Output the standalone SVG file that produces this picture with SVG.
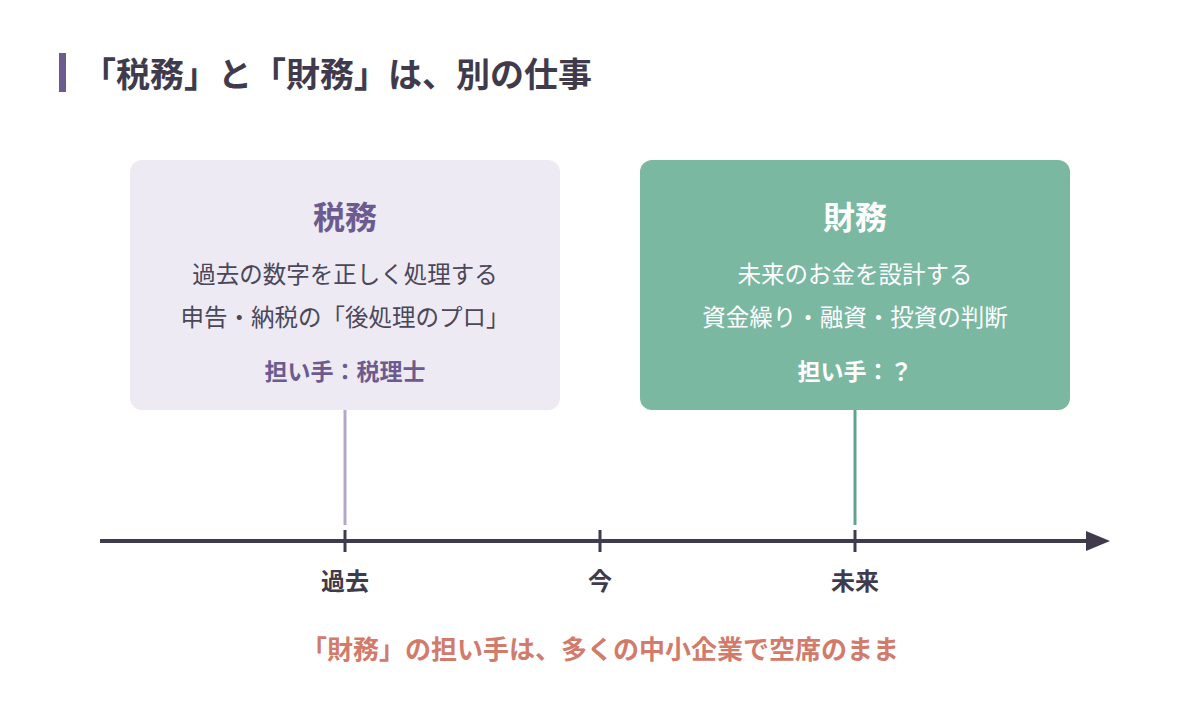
<svg xmlns="http://www.w3.org/2000/svg" width="1200" height="720" viewBox="0 0 1200 720">
<style>
text{font-family:"Noto Sans CJK JP","Noto Sans",sans-serif;text-anchor:middle}
.title{font-size:34px;font-weight:700;fill:#3f3b4c;text-anchor:start}
.h{font-size:32px;font-weight:700}
.body{font-size:23.5px;font-weight:400}
.who{font-size:23px;font-weight:700}
.ax{font-size:24px;font-weight:700;fill:#3f3b4c}
.note{font-size:26px;font-weight:700;fill:#d27b6b}
</style>
<rect width="1200" height="720" fill="#ffffff"/>
<g id="title">
<rect x="59" y="53" width="7" height="39" fill="#6b5b8e"/>
<text class="title" x="82" y="87">「税務」と「財務」は、別の仕事</text>
</g>
<g id="zeimu">
<rect x="130" y="160" width="430" height="250" rx="12" fill="#edeaf4"/>
<text class="h" x="345" y="229" fill="#6b5b8e">税務</text>
<text class="body" x="345" y="283" fill="#4a4858">過去の数字を正しく処理する</text>
<text class="body" x="345" y="326" fill="#4a4858">申告・納税の「後処理のプロ」</text>
<text class="who" x="345" y="380" fill="#6b5b8e">担い手：税理士</text>
</g>
<g id="zaimu">
<rect x="640" y="160" width="430" height="250" rx="12" fill="#7bb8a2"/>
<text class="h" x="855" y="229" fill="#ffffff">財務</text>
<text class="body" x="855" y="283" fill="#ffffff">未来のお金を設計する</text>
<text class="body" x="855" y="326" fill="#ffffff">資金繰り・融資・投資の判断</text>
<text class="who" x="855" y="380" fill="#ffffff">担い手：？</text>
</g>
<g id="timeline">
<line x1="100" y1="541" x2="1088" y2="541" stroke="#3f3b4c" stroke-width="4"/>
<polygon points="1086,531 1110,541 1086,551" fill="#3f3b4c"/>
<line x1="345" y1="530" x2="345" y2="552" stroke="#3f3b4c" stroke-width="3"/>
<line x1="600" y1="530" x2="600" y2="552" stroke="#3f3b4c" stroke-width="3"/>
<line x1="855" y1="530" x2="855" y2="552" stroke="#3f3b4c" stroke-width="3"/>
<text class="ax" x="345" y="590">過去</text>
<text class="ax" x="600" y="590">今</text>
<text class="ax" x="855" y="590">未来</text>
</g>
<g id="connectors">
<line x1="345" y1="410" x2="345" y2="525" stroke="#b3a8cc" stroke-width="3"/>
<line x1="855" y1="410" x2="855" y2="525" stroke="#5fa48a" stroke-width="3"/>
</g>
<g id="note">
<text class="note" x="600" y="659">「財務」の担い手は、多くの中小企業で空席のまま</text>
</g>
</svg>
